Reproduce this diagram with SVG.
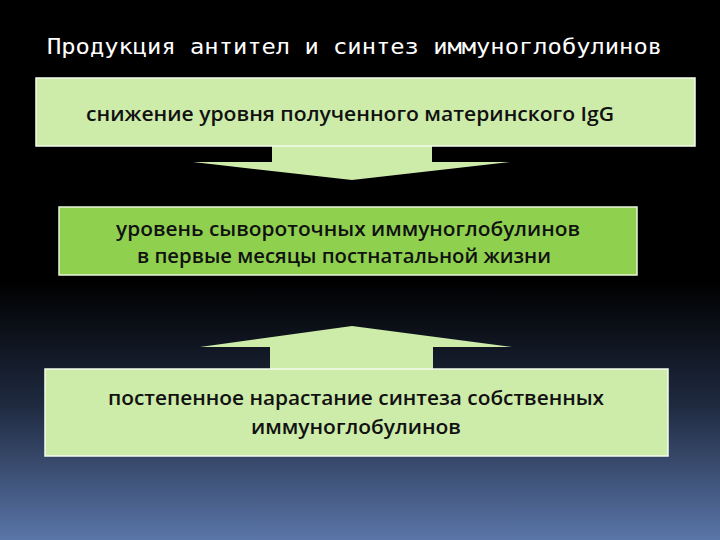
<svg xmlns="http://www.w3.org/2000/svg" width="720" height="540" viewBox="0 0 720 540">
<defs>
<linearGradient id="bg" x1="0" y1="0" x2="0" y2="1">
<stop offset="0" stop-color="#000000"/>
<stop offset="0.52" stop-color="#000000"/>
<stop offset="0.75" stop-color="#1f2a40"/>
<stop offset="1" stop-color="#5a75a8"/>
</linearGradient>
</defs>
<style>
.title{font-family:"DejaVu Sans Mono","Liberation Mono",monospace;font-size:22px;fill:#ffffff}
.lbl{font-family:"Open Sans","Noto Sans","Liberation Sans",sans-serif;font-size:19px;font-weight:600;fill:#111111;text-anchor:middle}
.light{fill:#cdeba9;stroke:#f4fbee;stroke-width:1.5}
.dark{fill:#8fd14f;stroke:#e8f5dc;stroke-width:1.5}
.arrow{fill:#cdeba9}
</style>
<rect width="720" height="540" fill="url(#bg)"/>
<text class="title" x="47" y="54" textLength="615" lengthAdjust="spacingAndGlyphs">Продукция антител и синтез иммуноглобулинов</text>
<g id="connectors">
<polygon class="arrow" points="272,145 432,145 432,162 510,162 352,180 193,162 272,162"/>
<polygon class="arrow" points="352,326 512,347 433,347 433,370 270,370 270,347 200,347"/>
</g>
<g id="node1">
<rect class="light" x="36" y="78" width="659" height="68"/>
<text class="lbl" x="350" y="121" textLength="528" lengthAdjust="spacingAndGlyphs">снижение уровня полученного материнского IgG</text>
</g>
<g id="node2">
<rect class="dark" x="59" y="207" width="578" height="68"/>
<text class="lbl" x="348" y="236" textLength="464" lengthAdjust="spacingAndGlyphs">уровень сывороточных иммуноглобулинов</text>
<text class="lbl" x="344" y="263" textLength="414" lengthAdjust="spacingAndGlyphs">в первые месяцы постнатальной жизни</text>
</g>
<g id="node3">
<rect class="light" x="45" y="369" width="623" height="87"/>
<text class="lbl" x="356" y="405" textLength="496" lengthAdjust="spacingAndGlyphs">постепенное нарастание синтеза собственных</text>
<text class="lbl" x="356" y="434" textLength="210" lengthAdjust="spacingAndGlyphs">иммуноглобулинов</text>
</g>
</svg>
